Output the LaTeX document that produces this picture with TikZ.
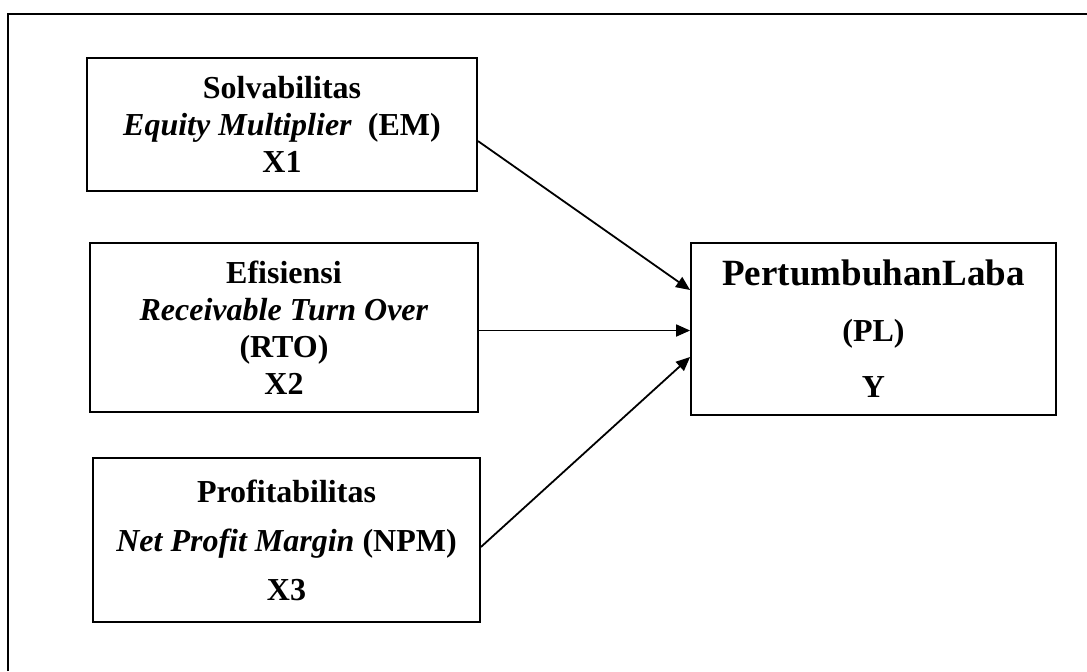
\documentclass[tikz,border=0pt]{standalone}
\usepackage{fontspec}
\setmainfont{Liberation Serif}
\usetikzlibrary{shapes,arrows.meta,positioning,calc}

\begin{document}
\begin{tikzpicture}[x=0.5pt, y=-0.5pt,
  varbox/.style={draw, rectangle, line width=0.9pt, align=center, inner sep=0pt},
  arr/.style={-{Triangle[length=7pt,width=6pt]}, line width=0.9pt}]
\useasboundingbox (0,0) rectangle (1087,671);

% bingkai
\draw[line width=1.1pt] (8,671) -- (8,14) -- (1087,14);

% variabel independen
\node[varbox, minimum width=195pt, minimum height=66.5pt, font=\bfseries\fontsize{16}{18.5}\selectfont] (solv) at (282,124.5) {Solvabilitas\\\textit{Equity Multiplier}~~(EM)\\X1};
\node[varbox, minimum width=194pt, minimum height=84.5pt, font=\bfseries\fontsize{16}{18.5}\selectfont] (efis) at (284,327.5) {Efisiensi\\\textit{Receivable Turn Over}\\(RTO)\\X2};
\node[varbox, minimum width=193.5pt, minimum height=82pt, font=\bfseries\fontsize{16}{24.5}\selectfont] (prof) at (286.5,540) {Profitabilitas\\\textit{Net Profit Margin} (NPM)\\X3};

% variabel dependen
\node[varbox, minimum width=182.5pt, minimum height=86pt, font=\bfseries\fontsize{16}{28}\selectfont] (laba) at (873.5,329) {{\fontsize{18.5}{28}\selectfont PertumbuhanLaba}\\(PL)\\Y};

% hubungan
\draw[arr] ($(solv.east)+(0,16.5)$) -- ($(laba.west)+(0,-39)$);
\draw[arr] ($(efis.east)+(0,3)$) -- ($(laba.west)+(0,1.5)$);
\draw[arr] ($(prof.east)+(0,7)$) -- ($(laba.west)+(0,28)$);
\end{tikzpicture}
\end{document}
